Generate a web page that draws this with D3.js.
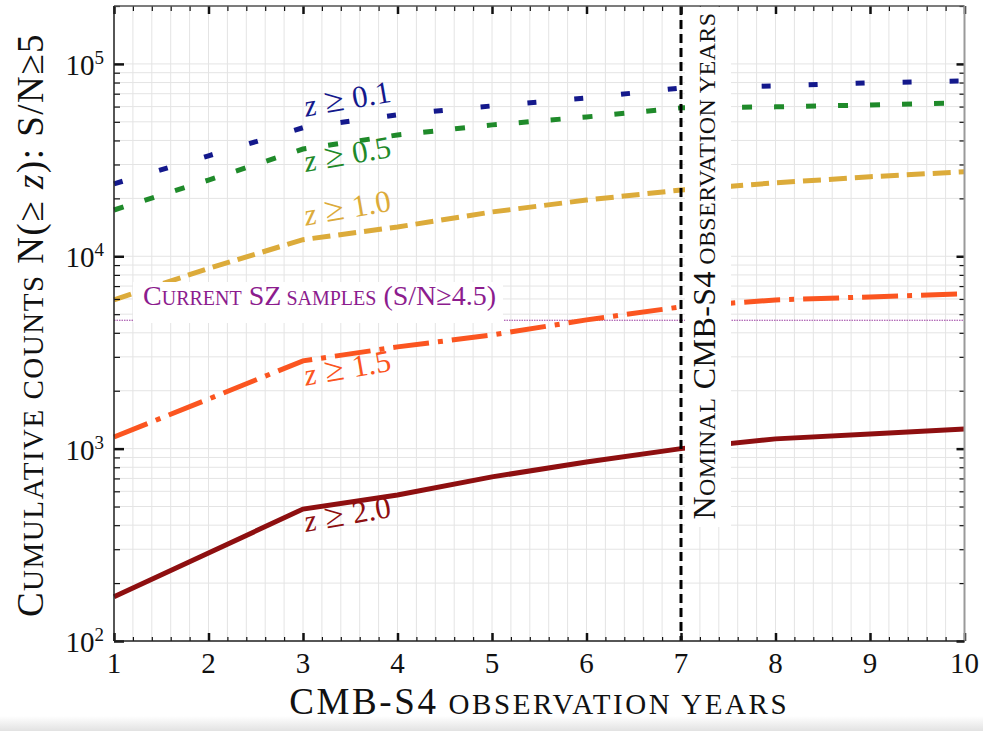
<!DOCTYPE html>
<html>
<head>
<meta charset="utf-8">
<script src="https://cdn.jsdelivr.net/npm/d3@7"></script>
<style>
  body { margin: 0; background: #fff; }
  svg { display: block; font-family: "Liberation Serif", "Times New Roman", serif; }
  text { white-space: pre; }
</style>
</head>
<body>
<svg id="chart" width="983" height="731"></svg>
<script>
// observation years and cumulative cluster counts N(>= z), S/N >= 5
const years = [1, 2, 3, 4, 5, 6, 7, 8, 9, 10];
const z01 = [23800, 33300, 46600, 54400, 60500, 66500, 75000, 76900, 79700, 81600];
const z05 = [17400, 24900, 36100, 42700, 48200, 53000, 59100, 59800, 61200, 62700];
const z10 = [5930, 8650, 12200, 14200, 17000, 19600, 22100, 24100, 25900, 27500];
const z15 = [1150, 1810, 2860, 3380, 3900, 4670, 5460, 5930, 6150, 6380];
const z20 = [170, 287, 485, 574, 713, 853, 1000, 1124, 1191, 1265];
const zLabels = ['0.1', '0.5', '1.0', '1.5', '2.0'];
const currentSZ = 4650;   // current SZ samples (S/N >= 4.5)
const nominalYears = 7;
const xTicks = [1, 2, 3, 4, 5, 6, 7, 8, 9, 10];
const yTicks = [1e2, 1e3, 1e4, 1e5];
const yExponents = ['2', '3', '4', '5'];

const W = 983, H = 731;
const svg = d3.select('#chart');

const x = d3.scaleLinear().domain([1, 10]).range([114, 964.5]);
const y = d3.scaleLog().domain([100, 2e5]).range([641, 6]);
const [xL, xR] = x.range();
const [yB, yT] = y.range();

svg.append('rect').attr('width', W).attr('height', H).attr('fill', '#fff');

// faint shadow along the bottom edge
const grad = svg.append('defs').append('linearGradient')
  .attr('id', 'shade').attr('x1', 0).attr('x2', 0).attr('y1', 0).attr('y2', 1);
grad.append('stop').attr('offset', '0%').attr('stop-color', '#fff');
grad.append('stop').attr('offset', '100%').attr('stop-color', '#e2e2e2');
svg.append('rect').attr('x', 0).attr('y', 716).attr('width', W).attr('height', 15).attr('fill', 'url(#shade)');

// Grid
const xMinor = d3.range(46).map(i => 1 + i * 0.2);
const yAll = y.ticks();
const grid = svg.append('g').attr('stroke', '#e4e4e4').attr('stroke-width', 1);
grid.selectAll('line.gx').data(xMinor).join('line').attr('class', 'gx')
  .attr('x1', d => x(d)).attr('x2', d => x(d)).attr('y1', yT).attr('y2', yB);
grid.selectAll('line.gy').data(yAll).join('line').attr('class', 'gy')
  .attr('x1', xL).attr('x2', xR).attr('y1', d => y(d)).attr('y2', d => y(d));

// current SZ samples level
svg.append('line')
  .attr('x1', xL).attr('x2', xR)
  .attr('y1', y(currentSZ)).attr('y2', y(currentSZ))
  .attr('stroke', '#9a3aa0').attr('stroke-width', 1).attr('stroke-dasharray', '1.5,1');

// Series
const series = [
  { label: zLabels[0], values: z01, color: '#14198c', dash: '9,38', dy: -11 },
  { label: zLabels[1], values: z05, color: '#1f8a2a', dash: '10,22', dy: 23 },
  { label: zLabels[2], values: z10, color: '#dcab3a', dash: '18,8', dy: -14 },
  { label: zLabels[3], values: z15, color: '#fb5520', dash: '36,9,5,9', dy: 25 },
  { label: zLabels[4], values: z20, color: '#8e0f10', dash: null, dy: 23 },
];

const line = d3.line().x((d, i) => x(years[i])).y(d => y(d));

svg.append('g').selectAll('path').data(series).join('path')
  .attr('d', d => line(d.values))
  .attr('fill', 'none')
  .attr('stroke', d => d.color)
  .attr('stroke-width', 5)
  .attr('stroke-dasharray', d => d.dash);

// labels on the curves
series.forEach(s => {
  const lx = x(3) + 3, ly = y(s.values[2]) + s.dy;
  const t = svg.append('text')
    .attr('transform', `translate(${lx},${ly}) rotate(-10)`)
    .attr('font-size', 31)
    .attr('fill', s.color);
  t.append('tspan').attr('font-style', 'italic').text('z');
  t.append('tspan').attr('font-size', 35).text(' ≥ ');
  t.append('tspan').text(s.label);
});

// Nominal years marker
svg.append('line')
  .attr('x1', x(nominalYears)).attr('x2', x(nominalYears))
  .attr('y1', yT).attr('y2', yB)
  .attr('stroke', '#000').attr('stroke-width', 3).attr('stroke-dasharray', '9,5');

// Ticks (all pointing inward)
function ticks(axis, vals, size, width, transform) {
  svg.append('g').attr('transform', transform)
    .call(axis.tickValues(vals).tickSize(size).tickSizeOuter(0).tickFormat(''))
    .call(g => g.select('.domain').remove())
    .call(g => g.selectAll('line').attr('stroke', '#111').attr('stroke-width', width));
}
const xMinorTicks = xMinor.filter(d => Math.abs(d - Math.round(d)) > 1e-6);
const yMinorTicks = yAll.filter(d => !yTicks.includes(d));

ticks(d3.axisBottom(x), xMinorTicks, -4, 1.2, `translate(0,${yB})`);
ticks(d3.axisBottom(x), xTicks, -8, 2.5, `translate(0,${yB})`);
ticks(d3.axisTop(x), xMinorTicks, -5, 1.2, `translate(0,${yT})`);
ticks(d3.axisTop(x), xTicks, -8, 2.5, `translate(0,${yT})`);
ticks(d3.axisLeft(y), yMinorTicks, -6, 1.2, `translate(${xL},0)`);
ticks(d3.axisLeft(y), yTicks, -10, 2.5, `translate(${xL},0)`);
ticks(d3.axisRight(y), yMinorTicks, -5, 1.2, `translate(${xR},0)`);
ticks(d3.axisRight(y), yTicks, -8, 2.5, `translate(${xR},0)`);

// small caps helper: 'b' big, 's' small caps, 'i' italic big
function smallCaps(text, segs, big, small) {
  segs.forEach(([s, kind]) => {
    const t = text.append('tspan')
      .text(kind === 's' ? s.toUpperCase() : s)
      .attr('font-size', kind === 's' ? small : big);
    if (kind === 'i') t.attr('font-style', 'italic');
  });
}

// white boxes behind annotations
svg.append('rect').attr('x', 133).attr('y', 282).attr('width', 370).attr('height', 41).attr('fill', '#fff');
svg.append('rect').attr('x', 685).attr('y', yT + 1).attr('width', 46).attr('height', 527 - yT - 1).attr('fill', '#fff');

const szText = svg.append('text')
  .attr('x', 143).attr('y', 305)
  .attr('fill', '#8c1c8e');
smallCaps(szText, [['C', 'b'], ['urrent', 's'], [' SZ', 'b'], [' samples', 's'], [' (S/N≥4.5)', 'b']], 28, 20);

const nomText = svg.append('text')
  .attr('transform', `translate(715,266) rotate(-90)`)
  .attr('text-anchor', 'middle')
  .attr('letter-spacing', 0.4)
  .attr('fill', '#111');
smallCaps(nomText, [['N', 'b'], ['ominal', 's'], [' CMB-S4', 'b'], [' observation years', 's']], 32, 24);

// Frame
const frame = svg.append('g').attr('fill', 'none');
frame.append('line').attr('x1', xL).attr('x2', xR).attr('y1', yT).attr('y2', yT).attr('stroke', '#555').attr('stroke-width', 1.5);
frame.append('line').attr('x1', xR).attr('x2', xR).attr('y1', yT).attr('y2', yB).attr('stroke', '#999').attr('stroke-width', 2);
frame.append('line').attr('x1', xL).attr('x2', xR).attr('y1', yB).attr('y2', yB).attr('stroke', '#222').attr('stroke-width', 1.5);
frame.append('line').attr('x1', xL).attr('x2', xL).attr('y1', yT).attr('y2', yB).attr('stroke', '#222').attr('stroke-width', 1.5);

// Tick labels
svg.append('g').selectAll('text').data(xTicks).join('text')
  .attr('x', d => x(d)).attr('y', yB + 32)
  .attr('text-anchor', 'middle')
  .attr('font-size', 29)
  .attr('fill', '#111')
  .text(d => d);

svg.append('g').selectAll('text').data(yTicks).join('text')
  .attr('x', 104).attr('y', d => y(d) + 11)
  .attr('text-anchor', 'end')
  .attr('font-size', 29)
  .attr('fill', '#111')
  .each(function (d, i) {
    const t = d3.select(this);
    t.append('tspan').text('10');
    t.append('tspan').attr('font-size', 19).attr('dy', -11).text(yExponents[i]);
  });

// Axis titles
const xTitle = svg.append('text')
  .attr('x', (xL + xR) / 2).attr('y', 714)
  .attr('text-anchor', 'middle')
  .attr('letter-spacing', 2.6)
  .attr('fill', '#111');
smallCaps(xTitle, [['CMB-S4', 'b'], [' observation years', 's']], 37, 29);

const yTitle = svg.append('text')
  .attr('transform', 'translate(43,325) rotate(-90)')
  .attr('text-anchor', 'middle')
  .attr('letter-spacing', 1.5)
  .attr('fill', '#111');
smallCaps(yTitle, [['C', 'b'], ['umulative counts', 's'], [' N(≥ ', 'b'], ['z', 'i'], ['): S/N≥5', 'b']], 37, 29);
</script>
</body>
</html>
